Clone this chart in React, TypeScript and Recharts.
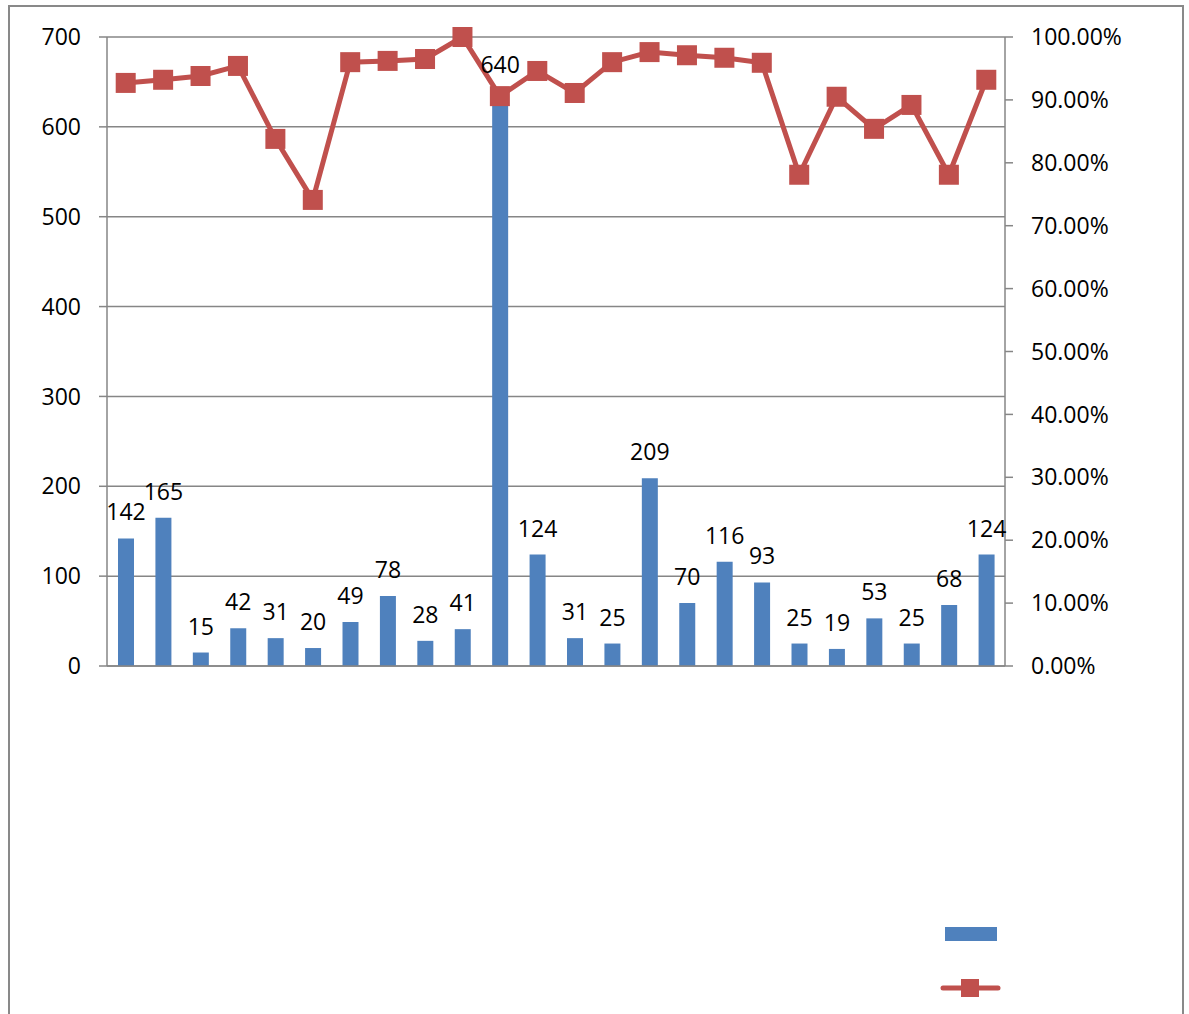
import React from 'react';
import { ComposedChart, Bar, Line, XAxis, YAxis, CartesianGrid, LabelList, Legend } from 'recharts';

const categories = ['1','2','3','4','5','6','7','8','9','10','11','12','13','14','15','16','17','18','19','20','21','22','23','24'];
const counts = [142, 165, 15, 42, 31, 20, 49, 78, 28, 41, 640, 124, 31, 25, 209, 70, 116, 93, 25, 19, 53, 25, 68, 124];
const rates = [0.927, 0.932, 0.938, 0.954, 0.838, 0.741, 0.960, 0.962, 0.965, 1.0, 0.906, 0.946, 0.911, 0.960, 0.976, 0.971, 0.967, 0.959, 0.781, 0.905, 0.854, 0.892, 0.781, 0.932];
const leftTicks = [0, 100, 200, 300, 400, 500, 600, 700];
const rightTicks = [0, 0.1, 0.2, 0.3, 0.4, 0.5, 0.6, 0.7, 0.8, 0.9, 1.0];
const boundaryTicks = [0, 1, 2, 3, 4, 5, 6, 7, 8, 9, 10, 11, 12, 13, 14, 15, 16, 17, 18, 19, 20, 21, 22, 23, 24];

const BAR_COLOR = '#4F81BD';
const LINE_COLOR = '#C0504D';
const GRID = '#868686';
const FONT = '"Open Sans", sans-serif';
const FS = 23;

const data = categories.map((c, i) => ({ cat: c, idx: i + 0.5, count: counts[i], rate: rates[i] }));

const SquareDot = (props: any) => {
  const { cx, cy } = props;
  if (cx == null || cy == null) return null;
  return <rect x={cx - 10} y={cy - 10} width={20} height={20} fill={LINE_COLOR} />;
};

const LegendContent = () => (
  <svg width={70} height={90}>
    <rect x={5} y={10} width={52} height={14} fill={BAR_COLOR} />
    <line x1={3} y1={71} x2={58} y2={71} stroke={LINE_COLOR} strokeWidth={5} strokeLinecap="round" />
    <rect x={21} y={62} width={18} height={18} fill={LINE_COLOR} />
  </svg>
);

export default function App() {
  return (
    <div
      style={{
        position: 'absolute',
        left: 8,
        top: 5,
        width: 1172,
        height: 1007,
        borderTop: '2px solid #898989',
        borderLeft: '2px solid #898989',
        borderRight: '2px solid #898989',
        background: '#fff',
        fontFamily: FONT,
        overflow: 'hidden',
      }}
    >
      <ComposedChart
        width={1172}
        height={1007}
        data={data}
        margin={{ top: 30, right: 0, bottom: 318, left: 0 }}
        barCategoryGap={0}
        style={{ fontFamily: FONT }}
      >
        <CartesianGrid xAxisId="cat" yAxisId="left" vertical={false} stroke={GRID} strokeWidth={1.5} />
        <XAxis xAxisId="cat" dataKey="cat" type="category" hide height={0} />
        <XAxis
          xAxisId="grid"
          dataKey="idx"
          type="number"
          domain={[0, 24]}
          ticks={boundaryTicks}
          tick={false}
          tickSize={9}
          height={30}
          axisLine={{ stroke: GRID, strokeWidth: 1.5 }}
          tickLine={{ stroke: GRID, strokeWidth: 1.5 }}
          allowDataOverflow
        />
        <YAxis
          yAxisId="left"
          orientation="left"
          domain={[0, 700]}
          ticks={leftTicks}
          width={97}
          tickSize={8}
          tickMargin={18}
          axisLine={{ stroke: GRID, strokeWidth: 1.5 }}
          tickLine={{ stroke: GRID, strokeWidth: 1.5 }}
          tick={{ fill: '#000', fontSize: FS, fontFamily: FONT }}
        />
        <YAxis
          yAxisId="right"
          orientation="right"
          domain={[0, 1]}
          ticks={rightTicks}
          width={177}
          tickSize={8}
          tickMargin={18}
          axisLine={{ stroke: GRID, strokeWidth: 1.5 }}
          tickLine={{ stroke: GRID, strokeWidth: 1.5 }}
          tick={{ fill: '#000', fontSize: FS, fontFamily: FONT }}
          tickFormatter={(v: number) => (v * 100).toFixed(2) + '%'}
        />
        <Bar xAxisId="cat" yAxisId="left" dataKey="count" name="" fill={BAR_COLOR} barSize={16} isAnimationActive={false}>
          <LabelList dataKey="count" position="top" offset={18} fill="#000" fontSize={FS} fontFamily={FONT} />
        </Bar>
        <Line
          xAxisId="cat"
          yAxisId="right"
          dataKey="rate"
          name=""
          stroke={LINE_COLOR}
          strokeWidth={5}
          dot={<SquareDot />}
          activeDot={false}
          isAnimationActive={false}
        />
        <Legend
          layout="horizontal"
          align="center"
          verticalAlign="middle"
          content={<LegendContent />}
          wrapperStyle={{ position: 'absolute', left: 930, top: 910, width: 70, height: 90 }}
        />
      </ComposedChart>
    </div>
  );
}
